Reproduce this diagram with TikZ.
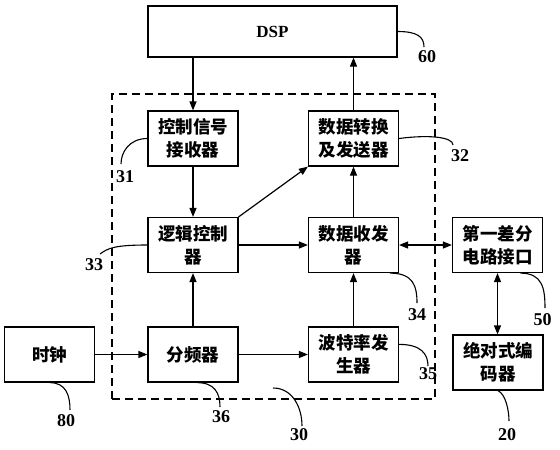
\documentclass[tikz,border=0pt]{standalone}
\usepackage{fontspec}
\setmainfont{Liberation Serif}
\newfontfamily\cjk{Noto Sans CJK SC}
\usetikzlibrary{arrows.meta,calc}
\tikzset{
  box/.style={draw, line width=1.2pt, minimum width=90pt, minimum height=55pt, inner sep=0pt,
    align=center, font=\cjk\bfseries\fontsize{17.5}{23}\selectfont},
  num/.style={inner sep=0pt, font=\bfseries\fontsize{18}{18}\selectfont},
  arr/.style={-{Triangle[length=9pt,width=7pt]}, line width=1.2pt},
  darr/.style={{Triangle[length=9pt,width=7pt]}-{Triangle[length=9pt,width=7pt]}, line width=1.2pt},
  lead/.style={line width=1.1pt},
  grpbox/.style={draw, line width=1.2pt, dash pattern=on 8pt off 5pt, minimum width=323pt, minimum height=305pt, inner sep=0pt}
}
\begin{document}
\begin{tikzpicture}[x=1pt,y=-1pt]
\useasboundingbox (0,0) rectangle (560,450);
% group
\node[grpbox] (grp) at (273.5,246.5) {};
% boxes
\node[draw, line width=1.2pt, minimum width=249pt, minimum height=51pt, inner sep=0pt,
  font=\bfseries\fontsize{17}{17}\selectfont] (dsp) at (272.5,31.5) {DSP};
\node[box] (n31) at (193,138.5) {控制信号\\接收器};
\node[box] (n32) at (353.5,138.5) {数据转换\\及发送器};
\node[box] (n33) at (193,245) {逻辑控制\\器};
\node[box] (n34) at (353.5,245) {数据收发\\器};
\node[box] (n50) at (497.5,245) {第一差分\\电路接口};
\node[box] (n80) at (49.5,354.5) {时钟};
\node[box] (n36) at (193,354.5) {分频器};
\node[box] (n35) at (353.5,354.5) {波特率发\\生器};
\node[box] (n20) at (498,362.5) {绝对式编\\码器};
% connectors
\draw[arr] (dsp.south -| n31.north) -- (n31.north);
\draw[arr] (n32.north) -- (n32.north |- dsp.south);
\draw[arr] (n31.south) -- (n33.north);
\draw[arr] (n33.north east) -- (n32.south west);
\draw[arr] (n34.north) -- (n32.south);
\draw[arr] (n33.east) -- (n34.west);
\draw[darr] (n34.east) -- (n50.west);
\draw[darr] (n50.south) -- (n50.south |- n20.north);
\draw[arr] (n36.north) -- (n33.south);
\draw[arr] (n35.north) -- (n34.south);
\draw[arr] (n80.east) -- (n36.west);
\draw[arr] (n36.east) -- (n35.west);
% labels
\node[num] (l60) at (427,57) {60};
\node[num] (l31) at (125,177) {31};
\node[num] (l32) at (460,155.5) {32};
\node[num] (l33) at (94,264.5) {33};
\node[num] (l34) at (417,315) {34};
\node[num] (l50) at (542.5,319.5) {50};
\node[num] (l35) at (428,373.5) {35};
\node[num] (l36) at (221,417) {36};
\node[num] (l30) at (299,435) {30};
\node[num] (l80) at (66,420.5) {80};
\node[num] (l20) at (507,434.5) {20};
% leader ends
\coordinate (e60) at (424,47);
\coordinate (e31) at (121,164);
\coordinate (e32) at (453,145);
\coordinate (e33) at (100,254);
\coordinate (e34) at (417,303);
\coordinate (e50) at (545,308);
\coordinate (e35) at (428,366);
\coordinate (e36) at (220,407);
\coordinate (s30) at (273,388);
\coordinate (e30) at (302,426);
\coordinate (e80) at (70,410);
\coordinate (e20) at (509,421);
% leaders
\draw[lead] (dsp.east) .. controls +(20,0) and +(0,-10) .. (e60);
\draw[lead] (n31.west) .. controls +(-18,0) and +(0,-12) .. (e31);
\draw[lead] (n32.east) .. controls +(30,-4) and +(0,-8) .. (e32);
\draw[lead] (n33.west) .. controls +(-32,0) and +(8,-6) .. (e33);
\draw[lead] ($(n34.south west)!0.9!(n34.south east)$) .. controls +(24,0) and +(0,-16) .. (e34);
\draw[lead] ($(n50.south west)!0.75!(n50.south east)$) .. controls +(22,0) and +(0,-20) .. (e50);
\draw[lead] ($(n35.north east)!0.32!(n35.south east)$) .. controls +(22,0) and +(0,-12) .. (e35);
\draw[lead] ($(n36.south west)!0.54!(n36.south east)$) .. controls +(18,0) and +(0,-14) .. (e36);
\draw[lead] (s30) .. controls +(20,0) and +(0,-18) .. (e30);
\draw[lead] ($(n80.south west)!0.5!(n80.south east)$) .. controls +(17,0) and +(0,-14) .. (e80);
\draw[lead] ($(n20.south west)!0.5!(n20.south east)$) .. controls +(8,4) and +(0,-10) .. (e20);
\end{tikzpicture}
\end{document}
